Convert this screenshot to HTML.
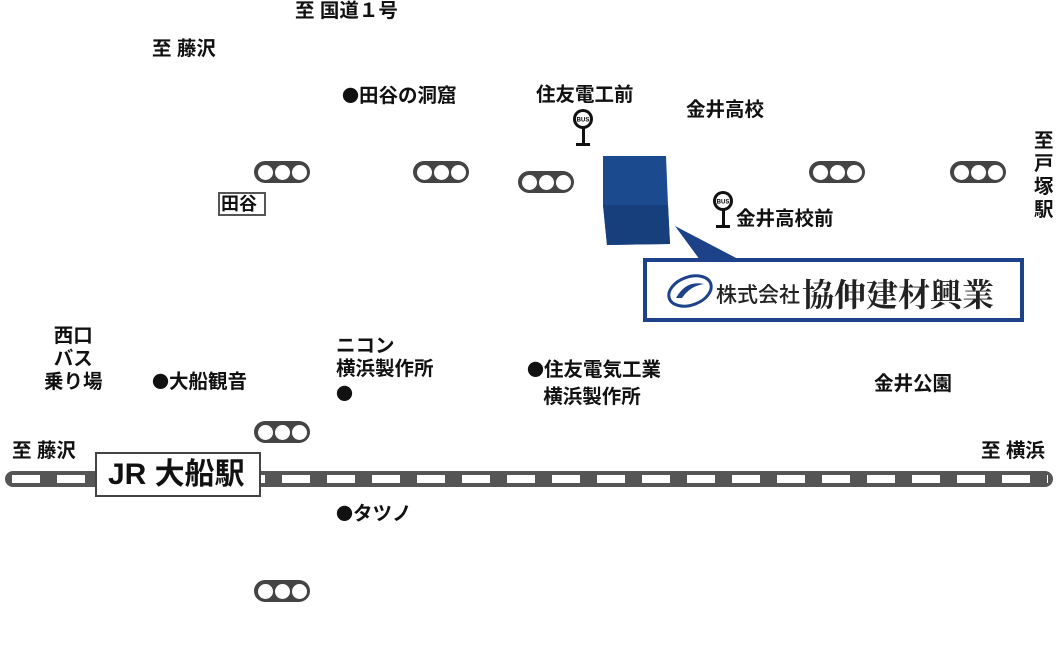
<!DOCTYPE html>
<html><head><meta charset="utf-8"><style>
body{margin:0;width:1057px;height:656px;background:#fff;position:relative;overflow:hidden;font-family:"Liberation Sans","Noto Sans CJK JP",sans-serif;font-weight:bold;color:#111}
.t{position:absolute;font-size:19.5px;white-space:nowrap;line-height:1}
.b{font-family:"Noto Sans CJK JP",sans-serif;font-size:17px}
.tl{position:absolute;width:56px;height:22px;border-radius:11px;background:#444;display:flex;align-items:center;justify-content:center;gap:2px}
.tl i{width:15px;height:15px;border-radius:50%;background:#fff;display:block}
.bus{position:absolute;width:22px;height:38px}
</style></head><body>
<div class="t" style="left:295px;top:2px">至 国道１号</div>
<div class="t" style="left:152px;top:40px">至 藤沢</div>
<div class="t" style="left:342px;top:86px"><span class="b">●</span>田谷の洞窟</div>
<div class="t" style="left:536px;top:86px">住友電工前</div>
<div class="t" style="left:686px;top:101px">金井高校</div>
<div class="t" style="left:1034px;top:130px;width:20px;white-space:normal;line-height:23px">至戸塚駅</div>
<div class="t" style="left:736px;top:210px">金井高校前</div>
<div style="position:absolute;left:218px;top:192px;width:48px;height:24px;border:2px solid #555;box-sizing:border-box"></div>
<div class="t" style="left:221px;top:195px;font-size:18px">田谷</div>
<div class="t" style="left:44px;top:325px;text-align:center;line-height:23px">西口<br>バス<br>乗り場</div>
<div class="t" style="left:152px;top:372px"><span class="b">●</span>大船観音</div>
<div class="t" style="left:336px;top:335px;line-height:23px">ニコン<br>横浜製作所<br><span class="b">●</span></div>
<div class="t" style="left:527px;top:355px;line-height:27px"><span class="b">●</span>住友電気工業<br>&nbsp;&nbsp;&nbsp;横浜製作所</div>
<div class="t" style="left:874px;top:375px">金井公園</div>
<div class="t" style="left:12px;top:442px">至 藤沢</div>
<div class="t" style="left:981px;top:442px">至 横浜</div>
<div class="t" style="left:336px;top:504px"><span class="b">●</span>タツノ</div>

<div style="position:absolute;left:5px;top:471px;width:1048px;height:16px;border-radius:8px;background:#555"></div>
<div style="position:absolute;left:12px;top:475px;width:1036px;height:8px;background:repeating-linear-gradient(90deg,#fff 0 28px,transparent 28px 45px)"></div>
<div style="position:absolute;left:95px;top:452px;width:166px;height:45px;border:2px solid #444;background:#fff;box-sizing:border-box;font-size:30px;line-height:41px;padding-left:11px;color:#111">JR 大船駅</div>

<div class="tl" style="left:254px;top:161px"><i></i><i></i><i></i></div>
<div class="tl" style="left:413px;top:161px"><i></i><i></i><i></i></div>
<div class="tl" style="left:518px;top:171px"><i></i><i></i><i></i></div>
<div class="tl" style="left:809px;top:161px"><i></i><i></i><i></i></div>
<div class="tl" style="left:950px;top:161px"><i></i><i></i><i></i></div>
<div class="tl" style="left:254px;top:421px"><i></i><i></i><i></i></div>
<div class="tl" style="left:254px;top:580px"><i></i><i></i><i></i></div>

<svg class="bus" style="left:572px;top:109px" viewBox="0 0 22 38"><circle cx="11" cy="10" r="10" fill="#111"/><circle cx="11" cy="10" r="7" fill="#fff"/><text x="11" y="12.5" font-size="6" text-anchor="middle" font-family="Liberation Sans" font-weight="bold">BUS</text><rect x="10" y="18" width="3" height="17" fill="#111"/><rect x="4" y="34" width="14" height="3" fill="#111"/></svg>
<svg class="bus" style="left:712px;top:191px" viewBox="0 0 22 38"><circle cx="11" cy="10" r="10" fill="#111"/><circle cx="11" cy="10" r="7" fill="#fff"/><text x="11" y="12.5" font-size="6" text-anchor="middle" font-family="Liberation Sans" font-weight="bold">BUS</text><rect x="10" y="18" width="3" height="17" fill="#111"/><rect x="4" y="34" width="14" height="3" fill="#111"/></svg>

<svg style="position:absolute;left:0;top:0" width="1057" height="656">
<polygon points="603,156 666,156 668,205 670,244 607,245 603,205" fill="#1b4a8e"/>
<polygon points="603,205 668,205 670,244 607,245" fill="#173f7c"/>
<polygon points="675,226 740,260 700,260" fill="#1d428a"/>
<rect x="645" y="260" width="377" height="60" fill="#fff" stroke="#1d428a" stroke-width="4"/>
<ellipse cx="690" cy="291" rx="22" ry="14" fill="none" stroke="#1d428a" stroke-width="3" transform="rotate(-20 690 291)"/>
<path d="M676 298 Q686 280 704 284 Q690 286 682 298 Z" fill="#1d428a"/>
<text x="716" y="302" font-size="21" font-family="Noto Sans CJK JP" font-weight="500" fill="#222">株式会社</text>
<text x="802" y="306" font-size="32" font-family="Noto Serif CJK SC" font-weight="bold" fill="#222">協伸建材興業</text>
</svg>
</body></html>
